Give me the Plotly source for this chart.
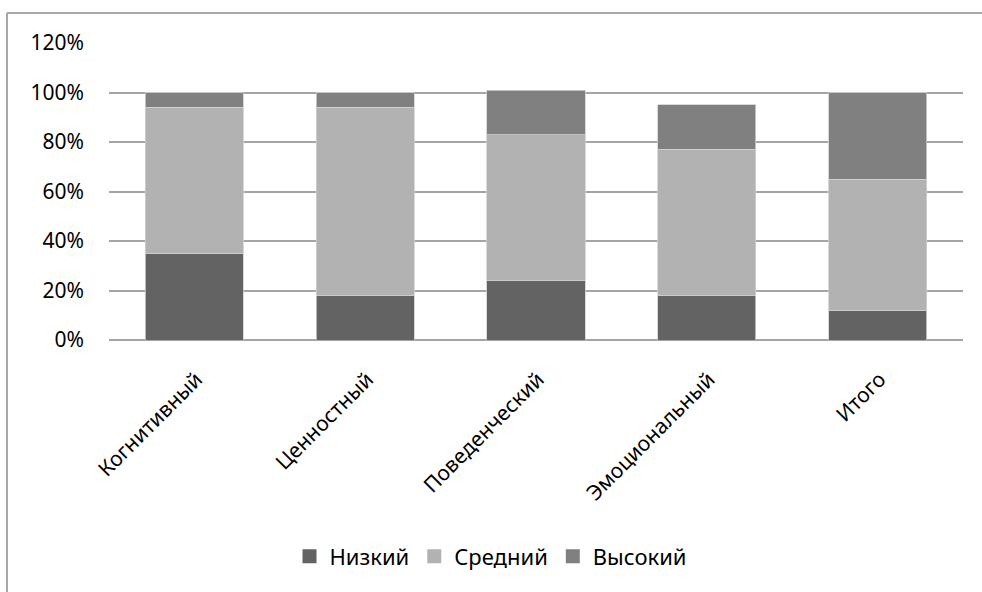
import plotly.graph_objects as go

categories = ["Когнитивный", "Ценностный", "Поведенческий", "Эмоциональный", "Итого"]
low = [35, 18, 24, 18, 12]
mid = [59, 76, 59, 59, 53]
high = [6, 6, 18, 18, 35]
series_names = ["Низкий", "Средний", "Высокий"]
colors = ["#636363", "#b2b2b2", "#808080"]
y_ticks = [0, 20, 40, 60, 80, 100, 120]
y_tick_labels = [f"{v}%" for v in y_ticks]

W, H = 982, 592
L, R, T, B = 109, 19, 43, 252

fig = go.Figure()
for name, vals, c in zip(series_names, [low, mid, high], colors):
    fig.add_trace(go.Bar(
        x=categories, y=vals, name=name, showlegend=False,
        marker=dict(color=c, line=dict(color="#d0d0d0", width=0.8)),
    ))
# legend proxies with larger square symbols
for name, c in zip(series_names, colors):
    fig.add_trace(go.Scatter(
        x=[None], y=[None], mode="markers", name=name,
        marker=dict(symbol="square", size=14, color=c),
    ))

pw = W - L - R
ph = H - T - B
def px_x(p):
    return (p - L) / pw
def px_y(p):
    return (H - B - p) / ph

frame = dict(color="#a8a8a8", width=2)
fig.add_shape(type="line", xref="paper", yref="paper",
              x0=px_x(7), x1=px_x(7), y0=px_y(13), y1=px_y(H + 2), line=frame)
fig.add_shape(type="line", xref="paper", yref="paper",
              x0=px_x(7), x1=px_x(W + 2), y0=px_y(13), y1=px_y(13), line=frame)

fig.update_layout(
    width=W, height=H,
    margin=dict(l=L, r=R, t=T, b=B, pad=0),
    barmode="stack",
    bargap=0.426,
    plot_bgcolor="white", paper_bgcolor="white",
    font=dict(family="Noto Sans", size=21, color="#000000"),
    showlegend=True,
    legend=dict(orientation="h", xref="container", yref="container",
                x=0.5, xanchor="center", y=0.06, yanchor="middle",
                font=dict(size=22), traceorder="normal", itemwidth=30),
    xaxis=dict(tickangle=-45, showgrid=False, showline=False, ticks="",
               ticklabelshift=2, ticklabelstandoff=22,
               tickfont=dict(size=21)),
    yaxis=dict(range=[0, 120], tickmode="array", tickvals=y_ticks,
               ticktext=y_tick_labels,
               showgrid=True, gridcolor="#a5a5a5", gridwidth=1.5,
               zeroline=True, zerolinecolor="#a5a5a5", zerolinewidth=1.5,
               showline=False, ticks="", ticklabelstandoff=24,
               tickfont=dict(size=21)),
)

fig.write_html("out.html")
